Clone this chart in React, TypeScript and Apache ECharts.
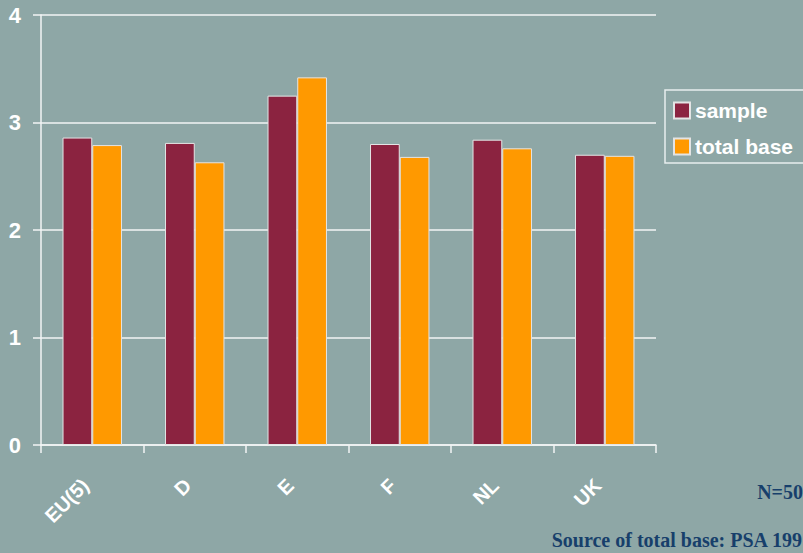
import React, { useEffect, useRef } from "react";
import * as echarts from "echarts";

const categories = ["EU(5)", "D", "E", "F", "NL", "UK"];
const sampleValues = [2.86, 2.81, 3.25, 2.80, 2.84, 2.70];
const totalBaseValues = [2.79, 2.63, 3.42, 2.68, 2.76, 2.69];
const seriesNames = ["sample", "total base"];
const noteText = "N=50";
const sourceText = "Source of total base: PSA 199";

export default function App() {
  const ref = useRef<HTMLDivElement>(null);
  useEffect(() => {
    document.body.style.margin = "0";
    const chart = echarts.init(ref.current!, null, { renderer: "svg" });
    const white = "#f2f5f5";
    chart.setOption({
      animation: false,
      backgroundColor: "#8EA7A6",
      grid: { left: 41, right: 147, top: 15, bottom: 108 },
      legend: {
        orient: "vertical",
        left: 665,
        top: 90,
        itemWidth: 16,
        itemHeight: 16,
        itemGap: 15,
        padding: [10, 60, 6, 8],
        borderColor: "#e8eeee",
        borderWidth: 1.5,
        icon: "rect",
        textStyle: {
          color: "#ffffff",
          fontSize: 21,
          lineHeight: 20,
          fontWeight: "bold",
          fontFamily: "Liberation Sans, Arial, sans-serif",
        },
        data: seriesNames,
      },
      xAxis: {
        type: "category",
        data: categories,
        axisLine: { lineStyle: { color: white, width: 1.5 } },
        axisTick: { show: true, length: 8, interval: 0, lineStyle: { color: white, width: 1.5 } },
        axisLabel: {
          rotate: 45,
          interval: 0,
          margin: 30,
          padding: [0, 10, 0, 0],
          color: "#ffffff",
          fontSize: 20,
          fontWeight: "bold",
          fontFamily: "Liberation Sans, Arial, sans-serif",
        },
      },
      yAxis: {
        type: "value",
        min: 0,
        max: 4,
        interval: 1,
        axisLine: { show: true, lineStyle: { color: white, width: 1.5 } },
        axisTick: { show: true, length: 8, lineStyle: { color: white, width: 1.5 } },
        splitLine: { show: true, lineStyle: { color: white, width: 1.5 } },
        axisLabel: {
          margin: 20,
          color: "#ffffff",
          fontSize: 22,
          fontWeight: "bold",
          fontFamily: "Liberation Sans, Arial, sans-serif",
        },
      },
      series: [
        {
          name: seriesNames[0],
          type: "bar",
          data: sampleValues,
          barGap: "0%",
          barCategoryGap: "42%",
          itemStyle: { color: "#8B2340", borderColor: "#e4e4e4", borderWidth: 1 },
        },
        {
          name: seriesNames[1],
          type: "bar",
          data: totalBaseValues,
          barGap: "0%",
          barCategoryGap: "42%",
          itemStyle: { color: "#FF9900", borderColor: "#e4e4e4", borderWidth: 1 },
        },
      ],
      graphic: [
        {
          type: "text",
          right: 0,
          top: 482,
          style: {
            text: noteText,
            fill: "#173F6B",
            font: "bold 20px 'Liberation Serif', 'Times New Roman', serif",
          },
        },
        {
          type: "text",
          right: 0,
          top: 530,
          style: {
            text: sourceText,
            fill: "#173F6B",
            font: "bold 20px 'Liberation Serif', 'Times New Roman', serif",
          },
        },
      ],
    });
    return () => chart.dispose();
  }, []);
  return (
    <div
      ref={ref}
      style={{ position: "absolute", left: 0, top: 0, width: 803, height: 553 }}
    />
  );
}
